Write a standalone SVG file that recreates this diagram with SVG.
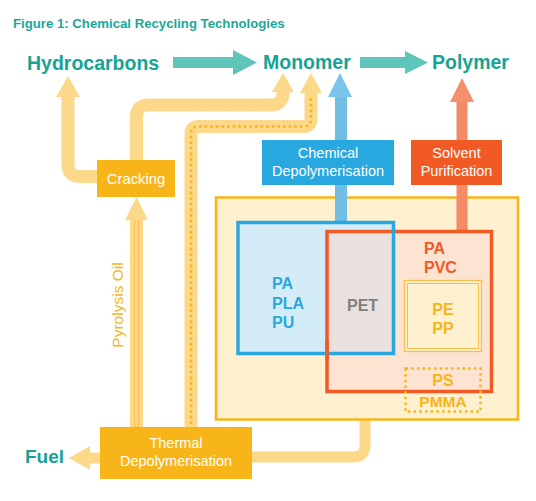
<svg xmlns="http://www.w3.org/2000/svg" width="536" height="501" viewBox="0 0 536 501">
<style>
text{font-family:"Liberation Sans",Arial,sans-serif}
.big{font-size:19.5px;font-weight:bold;fill:#16a394}
.box{font-size:14.5px;fill:#ffffff;text-anchor:middle}
.poly{font-size:16px;font-weight:bold}
.band{fill:none;stroke:#fcd88a;stroke-width:13}
.bfill{fill:#fcd88a}
</style>
<rect width="536" height="501" fill="#ffffff"/>
<text x="13" y="28" style="font-size:13.2px;font-weight:bold;fill:#1aa89a">Figure 1: Chemical Recycling Technologies</text>

<g id="connectors">
  <polygon points="173,57 233,57 233,50 257,62.5 233,75 233,68 173,68" fill="#5fc4b9"/>
  <polygon points="360,57 405,57 405,51 428,62.5 405,74 405,68 360,68" fill="#5fc4b9"/>
  <path class="band" d="M136.5,161 V117 Q136.5,105 148.5,105 H271 Q283,105 283,93 V90"/>
  <polygon class="bfill" points="272,92 283,73 294,92"/>
  <path class="band" d="M191,427 V134 Q191,126.5 198.5,126.5 H303.5 Q311,126.5 311,119 V92"/>
  <path d="M191,424 V134 Q191,126.5 198.5,126.5 H303.5 Q311,126.5 311,119 V96" fill="none" stroke="#f7b519" stroke-width="2.6" stroke-dasharray="2.6 3"/>
  <polygon class="bfill" points="300,93 311,73 322,93"/>
  <path class="band" d="M98,176.5 H80 Q68,176.5 68,164.5 V95"/>
  <polygon class="bfill" points="56,97 68,76 80,97"/>
  <rect x="130" y="218" width="13" height="210" class="bfill"/>
  <rect x="134.3" y="219" width="4.4" height="208" fill="none" stroke="#f8c24e" stroke-width="1"/>
  <polygon class="bfill" points="125,220 136.5,197 148,220"/>
  <rect x="89" y="452.5" width="12" height="11" class="bfill"/>
  <polygon class="bfill" points="69,458 90,446 90,470"/>
  <path d="M365,419 V445 Q365,457 353,457 H250" fill="none" stroke="#fcd88a" stroke-width="11"/>
</g>

<g id="container">
  <rect x="216" y="197.5" width="302" height="222" fill="#fff0d0" stroke="#f7b519" stroke-width="2.5"/>
</g>

<g id="upArrows">
  <rect x="335" y="95" width="12" height="128" fill="#72bde3"/>
  <polygon points="328,97 340,73 352,97" fill="#7ac4ea"/>
  <rect x="456.5" y="100" width="11" height="132" fill="#f28b66"/>
  <polygon points="450,102 462,78 474,102" fill="#f3916d"/>
</g>

<g id="chemDepol">
  <rect x="262" y="140" width="132" height="45" fill="#29a8e0"/>
  <text class="box" x="328" y="158">Chemical</text>
  <text class="box" x="328" y="175.5">Depolymerisation</text>
</g>
<g id="solvent">
  <rect x="411" y="140" width="91" height="45" fill="#f15a24"/>
  <text class="box" x="456.5" y="158">Solvent</text>
  <text class="box" x="456.5" y="175.5">Purification</text>
</g>
<g id="cracking">
  <rect x="97" y="160" width="78" height="37" fill="#f7b519"/>
  <text class="box" x="136" y="184" style="font-size:14.8px">Cracking</text>
</g>
<g id="thermal">
  <rect x="100" y="427" width="152" height="52" fill="#f7b519"/>
  <text class="box" x="176" y="448">Thermal</text>
  <text class="box" x="176" y="466">Depolymerisation</text>
</g>
<g id="pyrolysisLabel">
  <text transform="translate(123,305) rotate(-90)" text-anchor="middle" style="font-size:15.5px;fill:#f7b519">Pyrolysis Oil</text>
</g>

<g id="polymerSets">
  <rect x="238" y="222.5" width="155.5" height="131" fill="#d4ecf8"/>
  <rect x="327" y="231.5" width="164.5" height="160" fill="#fde3d2"/>
  <rect x="327" y="231.5" width="66.5" height="122" fill="#e8e1df"/>
  <rect x="327" y="231.5" width="164.5" height="160" fill="none" stroke="#f15a24" stroke-width="3.5"/>
  <rect x="238" y="222.5" width="155.5" height="131" fill="none" stroke="#29a8e0" stroke-width="3.5"/>
  <line x1="327" y1="340" x2="327" y2="360" stroke="#f15a24" stroke-width="3.5"/>
  <rect x="404.5" y="280.5" width="77" height="71" fill="#fff0d0" stroke="#f7c04a" stroke-width="1.3"/>
  <rect x="407.5" y="283.5" width="71" height="65" fill="none" stroke="#f7c04a" stroke-width="1"/>
  <rect x="405.5" y="368.5" width="75" height="43" fill="none" stroke="#f7b519" stroke-width="2.5" stroke-dasharray="2.5 3.2"/>
  <g class="poly" style="fill:#29a8e0">
    <text x="272" y="289">PA</text>
    <text x="272" y="309">PLA</text>
    <text x="272" y="328">PU</text>
  </g>
  <text class="poly" x="347" y="311" style="fill:#808080">PET</text>
  <g class="poly" style="fill:#f15a24">
    <text x="424" y="254">PA</text>
    <text x="424" y="273">PVC</text>
  </g>
  <g class="poly" style="fill:#f7b519;text-anchor:middle">
    <text x="443" y="315">PE</text>
    <text x="443" y="333.5">PP</text>
    <text x="443" y="386">PS</text>
    <text x="443" y="407" style="font-size:15.5px">PMMA</text>
  </g>
</g>

<g id="labels">
  <text class="big" x="27" y="70">Hydrocarbons</text>
  <text class="big" x="263" y="68.5">Monomer</text>
  <text class="big" x="432" y="69">Polymer</text>
  <text class="big" x="25" y="463" style="font-size:19px">Fuel</text>
</g>
</svg>
